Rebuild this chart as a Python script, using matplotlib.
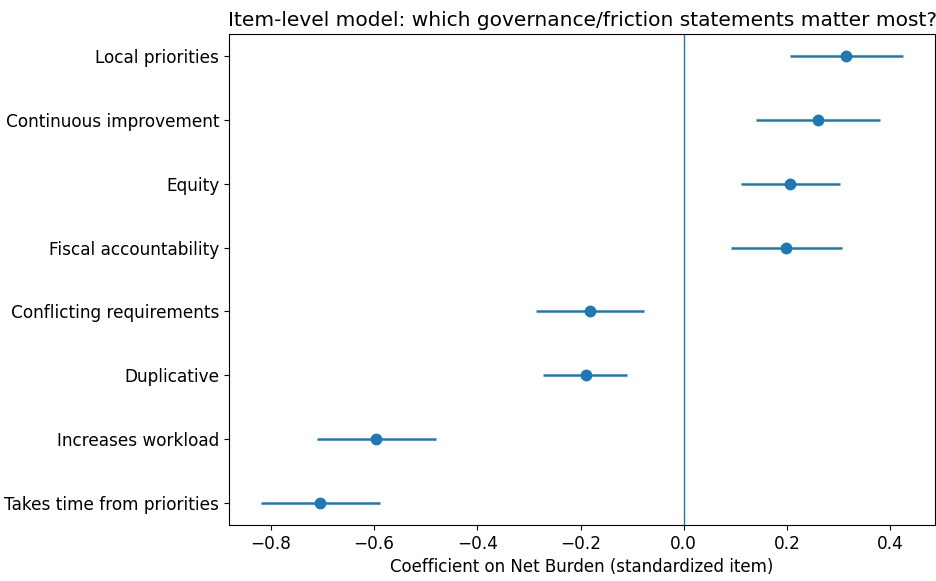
import numpy as np
import matplotlib
matplotlib.use("Agg")
import matplotlib.pyplot as plt

# item-level coefficients
items = ["Takes time from priorities", "Increases workload", "Duplicative",
         "Conflicting requirements", "Fiscal accountability", "Equity",
         "Continuous improvement", "Local priorities"]
coef = [-0.705, -0.596, -0.190, -0.181, 0.198, 0.206, 0.260, 0.315]
ci_low = [-0.819, -0.711, -0.272, -0.287, 0.091, 0.111, 0.140, 0.206]
ci_high = [-0.588, -0.480, -0.109, -0.076, 0.307, 0.303, 0.381, 0.425]

coef = np.array(coef)
err = np.array([coef - np.array(ci_low), np.array(ci_high) - coef])
y = np.arange(len(items))

fig, ax = plt.subplots(figsize=(9.36, 5.81), dpi=100)
ax.errorbar(coef, y, xerr=err, fmt="o", markersize=7.5, linewidth=1.8)
ax.axvline(0, linewidth=1)
ax.set_yticks(y)
ax.set_yticklabels(items)
ax.tick_params(labelsize=12.2)
ax.set_xlabel("Coefficient on Net Burden (standardized item)", fontsize=12)
ax.set_title("Item-level model: which governance/friction statements matter most?", fontsize=14.5)
fig.subplots_adjust(left=0.2447, right=0.999, top=0.9415, bottom=0.0964)
plt.savefig("out.png")
